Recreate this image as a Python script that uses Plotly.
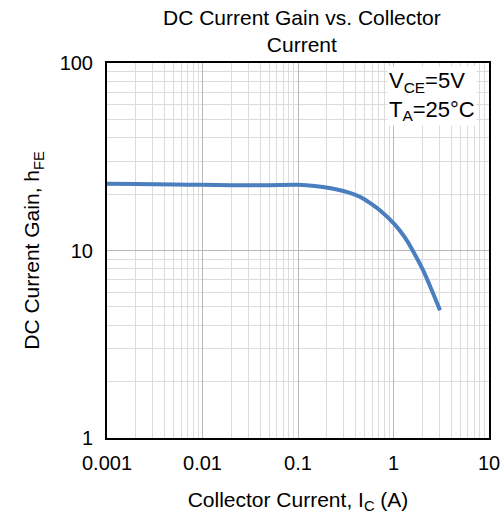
import plotly.graph_objects as go

ic = [0.001, 0.002, 0.005, 0.01, 0.02, 0.05, 0.1, 0.15, 0.22, 0.33, 0.45, 0.57, 0.72, 1.04, 1.32, 1.68, 2.04, 2.53, 3.07]
hfe = [22.7, 22.6, 22.5, 22.4, 22.3, 22.3, 22.4, 22.1, 21.5, 20.5, 19.3, 17.9, 16.4, 13.7, 11.7, 9.5, 7.85, 6.1, 4.8]

xticks = [0.001, 0.01, 0.1, 1, 10]
xlabels = ["0.001", "0.01", "0.1", "1", "10"]
yticks = [1, 10, 100]
ylabels = ["1", "10", "100"]

fig = go.Figure()
fig.add_trace(go.Scatter(x=ic, y=hfe, mode="lines", line=dict(color="#4a7ebf", width=4, shape="spline", smoothing=0.6)))

font = "Liberation Sans, Arial, sans-serif"
axis_common = dict(
    type="log", showline=True, linecolor="black", linewidth=2, mirror=True,
    showgrid=True, gridcolor="#b8b8b8", gridwidth=1,
    minor=dict(showgrid=True, gridcolor="#dcdcdc", gridwidth=1, dtick="D1"),
    ticks="", tickfont=dict(size=20, color="black", family=font),
    zeroline=False, automargin=False,
)
fig.update_xaxes(range=[-3, 1], tickvals=xticks, ticktext=xlabels, ticklabelstandoff=6, **axis_common,
                 title=dict(text="Collector Current, I<sub>C</sub> (A)", font=dict(size=21, color="black", family=font), standoff=20))
fig.update_yaxes(range=[0, 2], tickvals=yticks, ticktext=ylabels, ticklabelstandoff=8, **axis_common,
                 title=dict(text="DC Current Gain, h<sub>FE</sub>", font=dict(size=21, color="black", family=font), standoff=14))

fig.add_annotation(x=0.733, y=1, xref="paper", yref="paper", xanchor="left", yanchor="top",
                   yshift=-3, align="left", showarrow=False, bgcolor="white",
                   text="V<sub>CE</sub>=5V<br>T<sub>A</sub>=25°C",
                   font=dict(size=22, color="black", family=font))

fig.add_annotation(x=0.51, y=1, xref="paper", yref="paper", xanchor="center", yanchor="bottom",
                   yshift=5, showarrow=False, align="center",
                   text="DC Current Gain vs. Collector<br>Current",
                   font=dict(size=21, color="black", family=font))

fig.update_layout(
    width=501, height=514,
    margin=dict(l=107, r=12, t=63, b=76),
    paper_bgcolor="white", plot_bgcolor="white",
    showlegend=False,
)
fig.write_html("out.html", config={"displayModeBar": False},
               post_script="document.body.style.margin='0px';")
